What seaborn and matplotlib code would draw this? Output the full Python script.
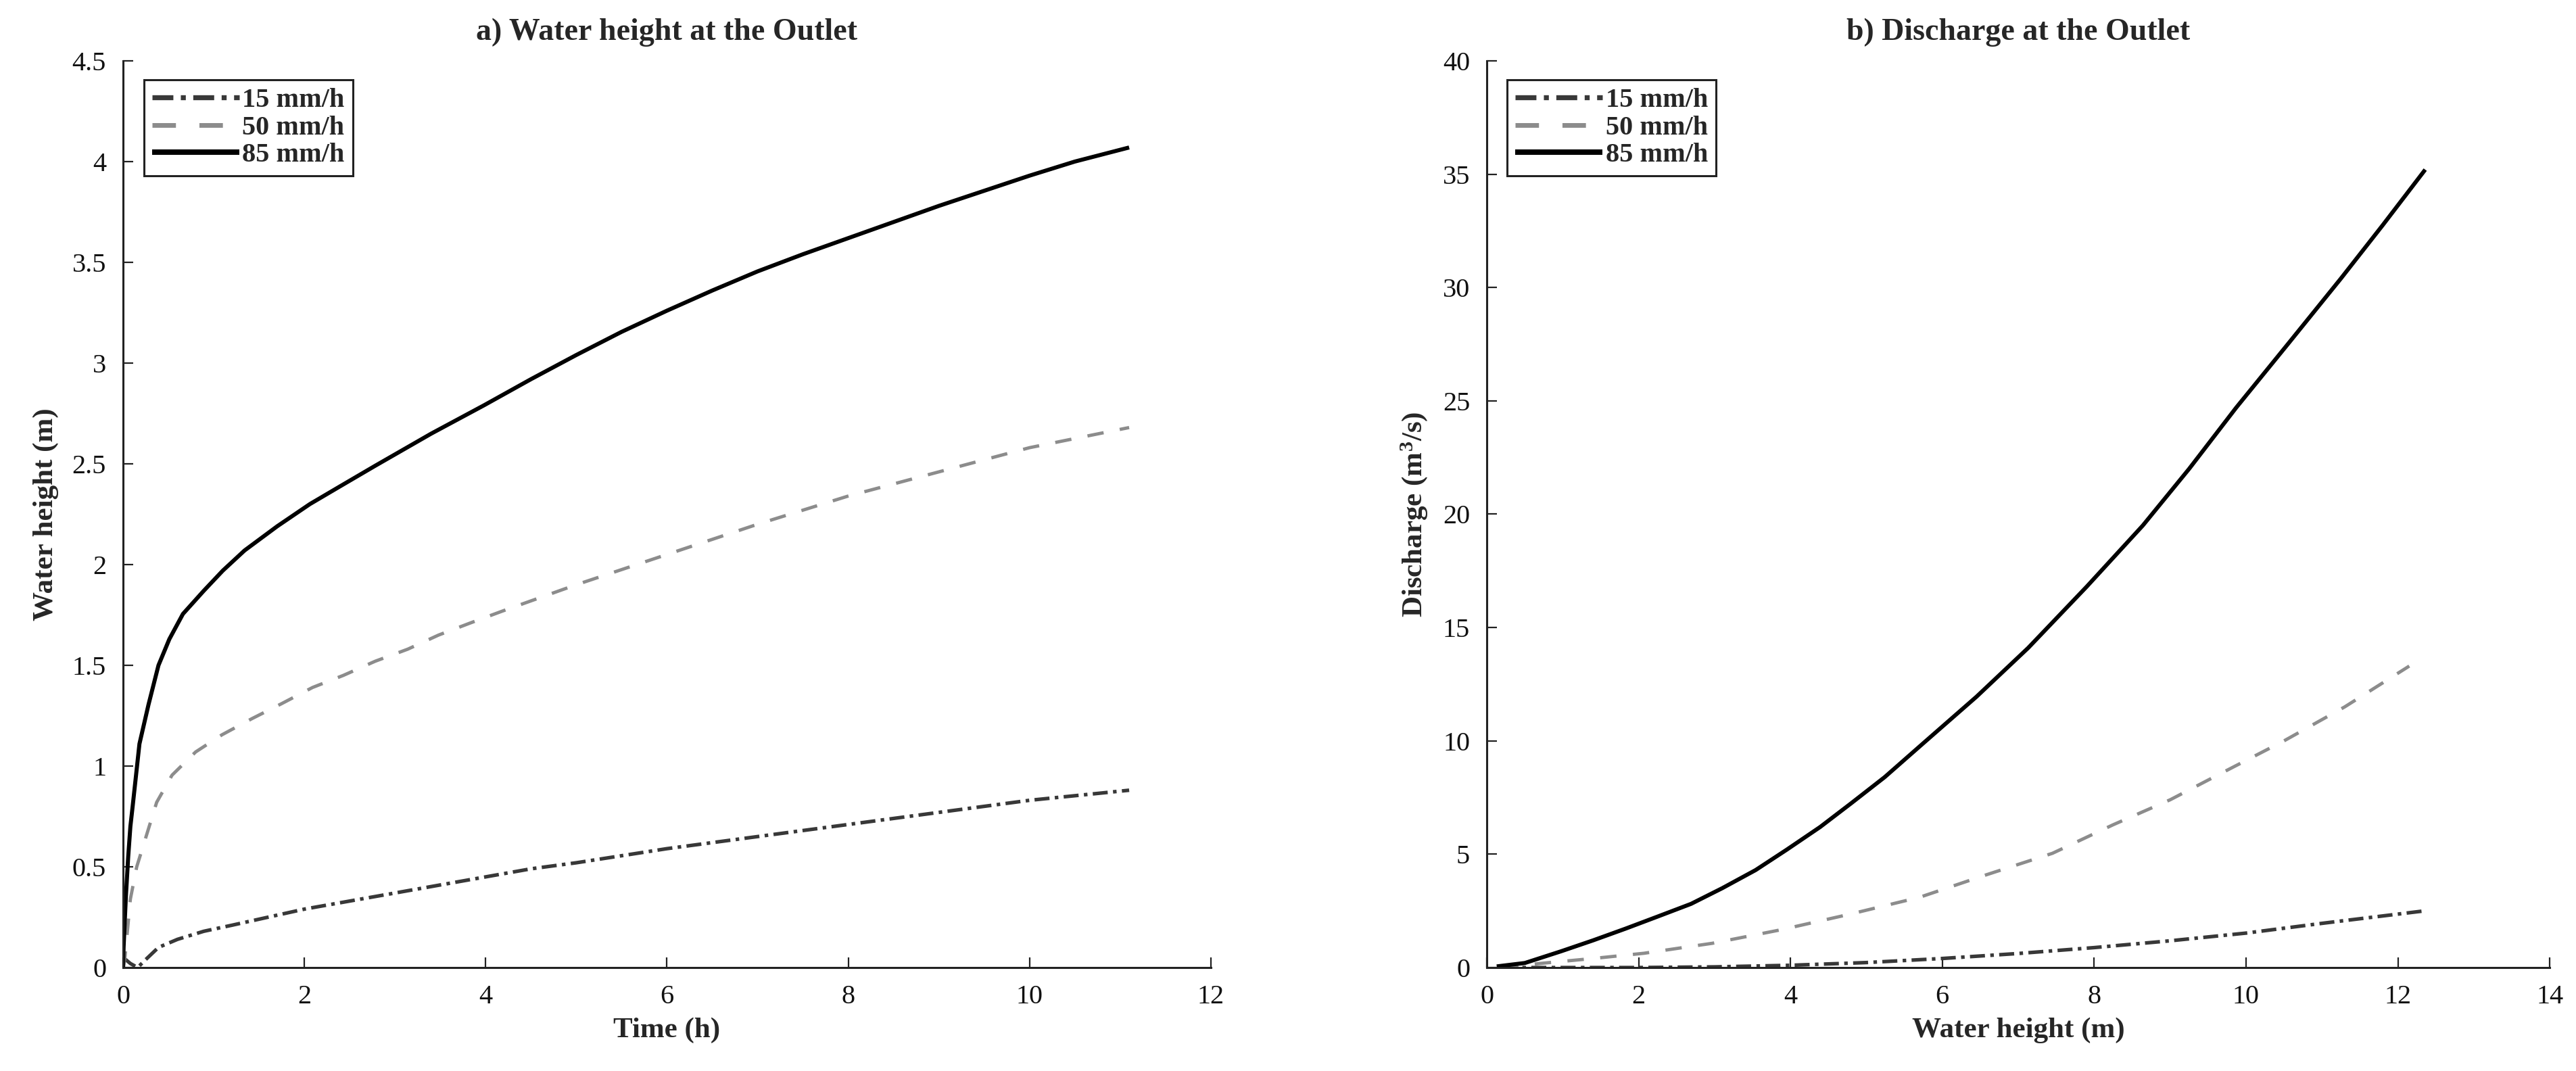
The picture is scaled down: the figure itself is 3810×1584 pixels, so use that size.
import numpy as np
import pandas as pd
import matplotlib
matplotlib.use("Agg")
import matplotlib.pyplot as plt
import seaborn as sns
from matplotlib.lines import Line2D

# ---------------- data ----------------
series_labels = ["15 mm/h", "50 mm/h", "85 mm/h"]

# a) water height vs time
t15 = [0.0, 0.08, 0.16, 0.25, 0.39, 0.6, 0.89, 1.2, 1.6, 2.0, 2.5, 3.0, 3.5, 4.0, 4.5, 5.0, 6.0, 7.0, 8.0, 9.0, 10.0, 11.1]
h15 = [0.05, 0.02, 0.0, 0.04, 0.10, 0.14, 0.18, 0.21, 0.25, 0.29, 0.33, 0.37, 0.41, 0.45, 0.49, 0.52, 0.59, 0.65, 0.71, 0.77, 0.83, 0.88]

t50 = [0.0, 0.02, 0.08, 0.15, 0.26, 0.37, 0.54, 0.80, 1.09, 1.42, 1.75, 2.09, 2.43, 2.78, 3.14, 3.48, 3.83, 4.19, 5.0, 6.0, 7.0, 8.0, 9.0, 10.0, 11.1]
h50 = [0.0, 0.05, 0.34, 0.50, 0.66, 0.82, 0.955, 1.07, 1.155, 1.235, 1.31, 1.39, 1.45, 1.52, 1.58, 1.65, 1.71, 1.77, 1.90, 2.05, 2.20, 2.34, 2.46, 2.58, 2.68]

t85 = [0.0, 0.005, 0.03, 0.056, 0.08, 0.105, 0.18, 0.28, 0.39, 0.51, 0.66, 0.89, 1.1, 1.34, 1.7, 2.06, 2.4, 2.78, 3.4, 3.98, 4.5, 5.0, 5.5, 6.0, 6.5, 7.0, 7.5, 8.0, 8.5, 9.0, 9.5, 10.0, 10.5, 11.1]
h85 = [0.0, 0.10, 0.35, 0.55, 0.70, 0.80, 1.11, 1.305, 1.50, 1.63, 1.755, 1.87, 1.97, 2.07, 2.19, 2.30, 2.39, 2.49, 2.65, 2.79, 2.92, 3.04, 3.155, 3.26, 3.36, 3.455, 3.54, 3.62, 3.70, 3.78, 3.855, 3.93, 4.0, 4.07]

# b) discharge vs water height
w15 = [0.2, 1.0, 2.0, 3.0, 4.0, 5.0, 6.0, 7.0, 8.0, 9.0, 10.0, 11.0, 12.35]
q15 = [0.0, 0.0, 0.0, 0.03, 0.10, 0.22, 0.40, 0.62, 0.88, 1.18, 1.52, 1.95, 2.5]

w50 = [0.2, 0.7, 1.4, 2.07, 2.97, 3.88, 4.79, 5.70, 6.55, 7.45, 8.25, 9.0, 9.69, 10.5, 11.3, 12.15]
q50 = [0.0, 0.18, 0.4, 0.63, 1.07, 1.67, 2.36, 3.10, 4.06, 5.04, 6.30, 7.40, 8.60, 10.0, 11.5, 13.3]

w85 = [0.13, 0.5, 0.98, 1.4, 1.83, 2.25, 2.69, 3.1, 3.54, 3.95, 4.39, 4.8, 5.24, 5.75, 6.45, 7.13, 7.9, 8.64, 9.25, 9.87, 10.55, 11.25, 11.8, 12.36]
q85 = [0.05, 0.2, 0.72, 1.2, 1.72, 2.25, 2.81, 3.5, 4.30, 5.2, 6.20, 7.25, 8.40, 9.90, 11.95, 14.1, 16.8, 19.5, 22.0, 24.7, 27.5, 30.4, 32.75, 35.2]

titles = ["a) Water height at the Outlet", "b) Discharge at the Outlet"]
xlabels = ["Time (h)", "Water height (m)"]
ylabels = ["Water height (m)", "Discharge (m$^3$/s)"]
xticks_a = [0, 2, 4, 6, 8, 10, 12]
yticks_a = [0, 0.5, 1, 1.5, 2, 2.5, 3, 3.5, 4, 4.5]
xticks_b = [0, 2, 4, 6, 8, 10, 12, 14]
yticks_b = [0, 5, 10, 15, 20, 25, 30, 35, 40]

# ---------------- style ----------------
sns.set_theme(style="ticks")
plt.rcParams["font.family"] = ["Liberation Serif", "DejaVu Serif"]
plt.rcParams["mathtext.fontset"] = "custom"
plt.rcParams["mathtext.rm"] = "Liberation Serif:bold"
plt.rcParams["mathtext.it"] = "Liberation Serif:bold"
plt.rcParams["mathtext.bf"] = "Liberation Serif:bold"

colors = ["#383838", "#8c8c8c", "#000000"]
lws = [3.8, 3.5, 4.3]
dashes = [(4.2, 1.5, 1.0, 1.5), (5.0, 5.0), None]

fig = plt.figure(figsize=(38.1, 15.84), dpi=100)
axA = fig.add_axes([0.0478, 0.0966, 0.4222, 0.8466])
axB = fig.add_axes([0.5772, 0.0966, 0.4126, 0.8466])

data_a = [(t15, h15), (t50, h50), (t85, h85)]
data_b = [(w15, q15), (w50, q50), (w85, q85)]

for ax, data in ((axA, data_a), (axB, data_b)):
    for (x, y), lab, c, lw, d in zip(data, series_labels, colors, lws, dashes):
        df = pd.DataFrame({"x": x, "y": y})
        sns.lineplot(data=df, x="x", y="y", ax=ax, color=c, linewidth=lw,
                     sort=False, estimator=None, legend=False)
        line = ax.get_lines()[-1]
        if d is not None:
            line.set_dashes(d)
        line.set_solid_capstyle("butt")
        line.set_dash_capstyle("butt")
        line.set_solid_joinstyle("round")

axA.set_xlim(0, 12)
axA.set_ylim(0, 4.5)
axA.set_xticks(xticks_a)
axA.set_yticks(yticks_a)
axA.set_yticklabels([f"{v:g}" for v in yticks_a])
axB.set_xlim(0, 14)
axB.set_ylim(0, 40)
axB.set_xticks(xticks_b)
axB.set_yticks(yticks_b)

for i, ax in enumerate((axA, axB)):
    sns.despine(ax=ax)
    for s in ("left", "bottom"):
        ax.spines[s].set_linewidth(2.2)
        ax.spines[s].set_color("#222222")
    ax.tick_params(direction="in", length=11, width=1.6, color="#222222",
                   labelsize=29, pad=18, labelcolor="#111111")
    ax.set_title(titles[i], fontsize=33, fontweight="bold", pad=22)
    ax.set_xlabel(xlabels[i], fontsize=31, fontweight="bold", labelpad=8)
    ax.set_ylabel(ylabels[i], fontsize=31, fontweight="bold", labelpad=14)
    handles = []
    for lab, c, lw, d in zip(series_labels, colors, lws, dashes):
        h = Line2D([0], [0], color=c, linewidth=lw + 1.5, solid_capstyle="butt")
        if d is not None:
            h.set_dashes(d)
        handles.append(h)
    leg = ax.legend(handles, series_labels, loc="upper left",
                    bbox_to_anchor=(0.019, 0.979), borderaxespad=0.0,
                    prop={"family": "Liberation Serif", "weight": "bold", "size": 29},
                    frameon=True, fancybox=False, edgecolor="#222222",
                    handlelength=3.2, handletextpad=0.12, labelspacing=0.08,
                    borderpad=0.3)
    leg.get_frame().set_linewidth(2.2)
    leg.get_frame().set_facecolor("white")
    leg.get_frame().set_alpha(1.0)

fig.savefig("out.png", dpi=100, facecolor="white")
